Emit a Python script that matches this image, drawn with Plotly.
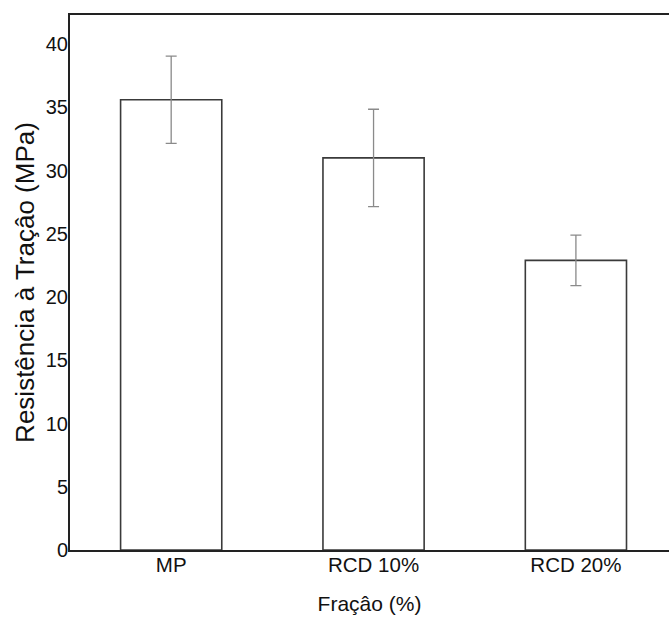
import plotly.graph_objects as go

categories = ["MP", "RCD 10%", "RCD 20%"]
values = [35.6, 31.0, 22.9]
errors = [3.45, 3.85, 2.0]
y_ticks = [0, 5, 10, 15, 20, 25, 30, 35, 40]

fig = go.Figure()
fig.add_trace(go.Bar(
    x=categories, y=values, width=0.5,
    marker=dict(color="white", line=dict(color="#3a3a3a", width=1.6)),
    error_y=dict(type="data", array=errors, visible=True, color="#8a8a8a", thickness=1.3, width=5.5),
    showlegend=False,
))

fig.update_layout(
    width=669, height=624,
    margin=dict(l=70, r=0, t=15, b=74, autoexpand=False),
    paper_bgcolor="white", plot_bgcolor="white",
    font=dict(family="Liberation Sans, Arial, sans-serif", color="#111"),
    xaxis=dict(
        range=[-0.5, 2.46], showline=True, mirror=True, linecolor="#222", linewidth=2,
        showgrid=False, ticks="", tickfont=dict(size=20.5), automargin=False,
        ticklabelstandoff=-5,
        title=dict(text="Fraçâo (%)", font=dict(size=21), standoff=22),
    ),
    yaxis=dict(
        range=[0, 42.3], tickvals=y_ticks, showline=True, linecolor="#222", linewidth=2,
        showgrid=False, zeroline=False, ticks="", tickfont=dict(size=20), automargin=False,
        ticklabelstandoff=-4,
        title=dict(text="Resistência à Traçâo (MPa)", font=dict(size=26), standoff=4),
    ),
)

fig.write_html("out.html", config={"displayModeBar": False},
               post_script="document.body.style.margin='0';document.body.style.overflow='hidden';")
